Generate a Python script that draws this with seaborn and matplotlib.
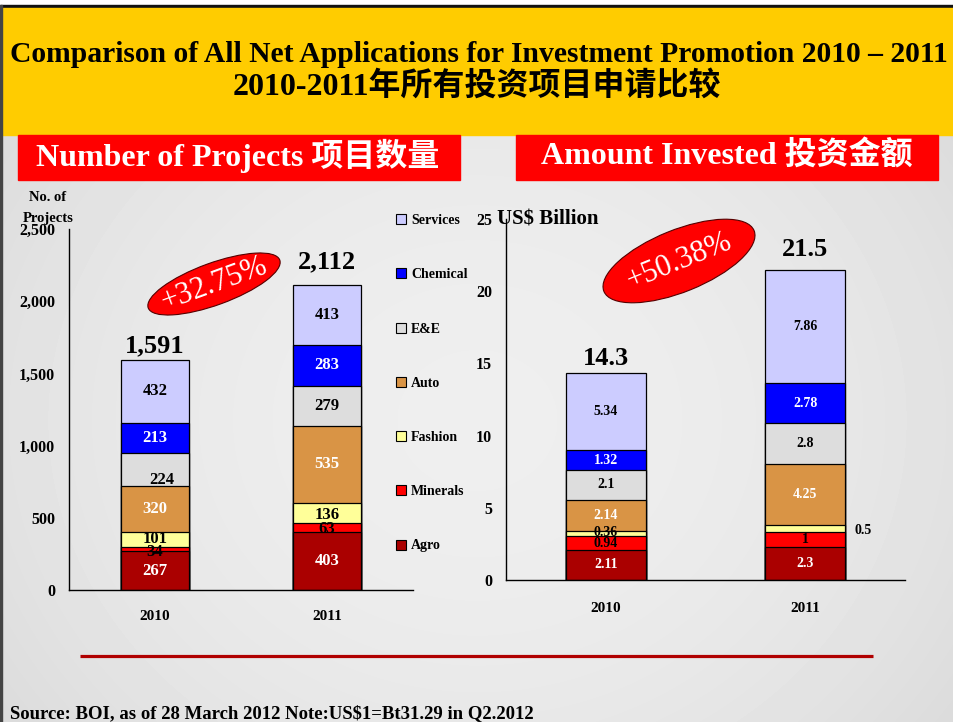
import numpy as np
import pandas as pd
import matplotlib
matplotlib.use("Agg")
import matplotlib.pyplot as plt
import seaborn as sns
from matplotlib.patches import Rectangle, Ellipse, Patch
from matplotlib.font_manager import FontProperties
from matplotlib.ticker import FixedLocator

# ---------------- data ----------------
years = ["2010", "2011"]
sectors = ["Agro", "Minerals", "Fashion", "Auto", "E&E", "Chemical", "Services"]
projects_2010 = [267, 34, 101, 320, 224, 213, 432]
projects_2011 = [403, 63, 136, 535, 279, 283, 413]
amount_2010 = [2.11, 0.94, 0.36, 2.14, 2.1, 1.32, 5.34]
amount_2011 = [2.3, 1, 0.5, 4.25, 2.8, 2.78, 7.86]
project_totals = ["1,591", "2,112"]
amount_totals = ["14.3", "21.5"]
project_growth = "+32.75%"
amount_growth = "+50.38%"
project_ticks = [0, 500, 1000, 1500, 2000, 2500]
project_tick_labels = ["0", "500", "1,000", "1,500", "2,000", "2,500"]
amount_ticks = [0, 5, 10, 15, 20, 25]
amount_tick_labels = ["0", "5", "10", "15", "20", "25"]

title_en = "Comparison of All Net Applications for Investment Promotion 2010 \u2013 2011"
title_cn = "2010-2011年所有投资项目申请比较"
left_header = "Number of Projects 项目数量"
right_header = "Amount Invested 投资金额"
left_ylabel = "No. of\nProjects"
right_ylabel = "US$ Billion"
source_note = "Source: BOI, as of 28 March 2012 Note:US$1=Bt31.29 in Q2.2012"

# ---------------- styles ----------------
sector_colors = {"Agro": "#AA0000", "Minerals": "#FF0000", "Fashion": "#FFFF99",
                 "Auto": "#D99445", "E&E": "#DDDDDD", "Chemical": "#0000FF",
                 "Services": "#CCCCFF"}
label_colors = {"Agro": "white", "Minerals": "black", "Fashion": "black",
                "Auto": "white", "E&E": "black", "Chemical": "white",
                "Services": "black"}

sns.set_style("white")
FAM = ["Liberation Serif", "Noto Sans CJK SC", "DejaVu Sans"]
plt.rcParams["font.family"] = FAM
for k in ["text.color", "axes.labelcolor", "xtick.color", "ytick.color"]:
    plt.rcParams[k] = "black"


def make_df(v2010, v2011):
    rows = []
    for yr, vals in zip(years, [v2010, v2011]):
        cum = 0.0
        for sec, v in zip(sectors, vals):
            rows.append({"year": yr, "sector": sec, "value": v,
                         "bottom": cum, "top": cum + v})
            cum += v
    return pd.DataFrame(rows)


df_proj = make_df(projects_2010, projects_2011)
df_amt = make_df(amount_2010, amount_2011)

fig = plt.figure(figsize=(9.54, 7.22), dpi=100)

# ---------------- background / decorations (pixel coords) ----------------
bg = fig.add_axes([0, 0, 1, 1], zorder=0)
bg.set_xlim(0, 954)
bg.set_ylim(722, 0)
bg.axis("off")
yy, xx = np.mgrid[0:722, 0:954]
r = np.sqrt(((xx - 477) / 477.0) ** 2 + ((yy - 420) / 420.0) ** 2)
grad = np.clip(0.935 - 0.05 * r ** 2, 0.82, 1)
bg.imshow(grad, cmap="gray", vmin=0, vmax=1, extent=(0, 954, 722, 0),
          aspect="auto", zorder=0, interpolation="bilinear")
bg.add_patch(Rectangle((0, 0), 954, 5, color="white", zorder=1))
bg.add_patch(Rectangle((0, 5), 954, 3, color="#111111", zorder=1))
bg.add_patch(Rectangle((0, 8), 954, 127, color="#FFCC00", zorder=1))
bg.add_patch(Rectangle((0, 5), 2, 717, color="#444444", zorder=2))
bg.add_patch(Rectangle((18, 135), 442, 45, color="#FF0000", zorder=2))
bg.add_patch(Rectangle((516, 135), 422, 45, color="#FF0000", zorder=2))
bg.plot([80, 873], [656, 656], color="#B00000", lw=2.3, zorder=2,
        solid_capstyle="butt")

bg.text(479, 55, title_en, ha="center", va="center", fontsize=21.3,
        fontweight="bold", family=FAM, zorder=3)
bg.text(477, 86, title_cn, ha="center", va="center", fontsize=23,
        fontweight="bold", family=FAM, zorder=3)
bg.text(238, 156, left_header, ha="center", va="center", fontsize=23,
        fontweight="bold", family=FAM, color="white", zorder=3)
bg.text(727, 156, right_header, ha="center", va="center", fontsize=23,
        fontweight="bold", family=FAM, color="white", zorder=3)
bg.text(48, 208, left_ylabel, ha="center", va="center", fontsize=10.5,
        fontweight="bold", family=FAM, linespacing=1.75, zorder=3)
bg.text(497, 219, right_ylabel, ha="left", va="center", fontsize=15,
        fontweight="bold", family=FAM, zorder=5)
bg.text(10, 714, source_note, ha="left", va="center", fontsize=13.5,
        fontweight="bold", family=FAM, zorder=3)

# growth ellipses
for (cx, cy, a, b, ang, txt) in [(214, 284, 70, 21, 20, project_growth),
                                  (679, 261, 81, 31, 22, amount_growth)]:
    bg.add_patch(Ellipse((cx, cy), 2 * a, 2 * b, angle=-ang, facecolor="#FF0000",
                         edgecolor="#550000", lw=0.8, zorder=3))
    bg.text(cx, cy, txt, ha="center", va="center", rotation=ang,
            rotation_mode="anchor", fontsize=22, color="white", family=FAM,
            zorder=4)


# ---------------- charts ----------------
def draw_chart(ax, df, totals, ticks, tick_labels, ymax, seg_fs, total_fs,
               label_y_override, label_x_override, total_offsets, xlabel_pad):
    for sec in reversed(sectors):
        sub = df[df["sector"] == sec]
        sns.barplot(data=sub, x="year", y="top", order=years,
                    color=sector_colors[sec], saturation=1, width=0.4,
                    edgecolor="black", linewidth=0.9, errorbar=None, ax=ax)
    ax.set_xlim(-0.5, 1.5)
    ax.set_ylim(0, ymax)
    ax.patch.set_alpha(0)
    ax.set_xlabel("")
    ax.set_ylabel("")
    for s in ["top", "right"]:
        ax.spines[s].set_visible(False)
    for s in ["left", "bottom"]:
        ax.spines[s].set_color("black")
        ax.spines[s].set_linewidth(1.0)
    ax.set_yticks(ticks)
    ax.set_yticklabels(tick_labels, fontsize=11.5, fontweight="bold", family=FAM)
    ax.tick_params(axis="y", direction="out", length=4, width=1, pad=6,
                   colors="black")
    ax.set_xticks([0, 1])
    ax.set_xticklabels(years, fontsize=11, fontweight="bold", family=FAM)
    ax.tick_params(axis="x", which="major", length=0, pad=xlabel_pad,
                   colors="black")
    ax.xaxis.set_minor_locator(FixedLocator([-0.5, 0.5, 1.5]))
    ax.tick_params(axis="x", which="minor", direction="out", length=6, width=1,
                   colors="black")

    for _, row in df.iterrows():
        i = years.index(row["year"])
        key = (row["year"], row["sector"])
        y = label_y_override.get(key, row["bottom"] + row["value"] / 2)
        x = label_x_override.get(key, i)
        txt = f"{row['value']:g}"
        ha = "left" if key in label_x_override and x > i + 0.2 else "center"
        ax.text(x, y, txt, ha=ha, va="center", fontsize=seg_fs,
                fontweight="bold", family=FAM,
                color=label_colors[row["sector"]], zorder=10)
    tops = df.groupby("year")["top"].max()
    for i, yr in enumerate(years):
        ax.annotate(totals[i], (i, tops[yr]), xytext=(0, total_offsets[i]),
                    textcoords="offset points", ha="center", va="baseline",
                    fontsize=total_fs, fontweight="bold", family=FAM)


axL = fig.add_axes([69 / 954, 1 - 590 / 722, 344 / 954, 361 / 722], zorder=2)
axR = fig.add_axes([506 / 954, 1 - 580 / 722, 399 / 954, 361 / 722], zorder=2)

draw_chart(axL, df_proj, project_totals, project_ticks, project_tick_labels, 2500,
           12, 19,
           {("2010", "E&E"): 760, ("2010", "Minerals"): 263,
            ("2011", "Minerals"): 424, ("2011", "Fashion"): 522},
           {("2010", "E&E"): 0.04},
           [6, 12], 14.5)
draw_chart(axR, df_amt, amount_totals, amount_ticks, amount_tick_labels, 25,
           10, 19,
           {("2010", "Minerals"): 2.5, ("2010", "Fashion"): 3.27,
            ("2011", "Fashion"): 3.46},
           {("2011", "Fashion"): 1.245},
           [6, 10], 16)

# legend
handles = [Patch(facecolor=sector_colors[s], edgecolor="black", linewidth=0.8)
           for s in reversed(sectors)]
fig.legend(handles, list(reversed(sectors)), loc="upper left",
           bbox_to_anchor=(396 / 954, 1 - 214 / 722), frameon=False,
           prop=FontProperties(family=FAM, weight="bold", size=10),
           handlelength=0.75, handleheight=0.75, handletextpad=0.35,
           labelspacing=2.97, borderaxespad=0, borderpad=0)

fig.savefig("out.png", dpi=100)
